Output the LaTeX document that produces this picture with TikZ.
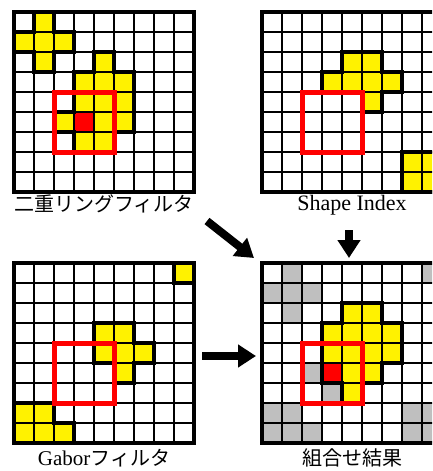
\documentclass[tikz,border=0pt]{standalone}
\usepackage{fontspec}
\setmainfont{Liberation Serif}
\newfontfamily\jpfont{Noto Sans CJK JP}
\usetikzlibrary{arrows.meta}
\begin{document}
\begin{tikzpicture}[
  x=1pt, y=-1pt,
  cellgrid/.style={x=20pt, y=-20pt},
  cellline/.style={line width=1.6pt},
  rim/.style={line width=4pt},
  blob/.style={line width=4pt, line join=miter},
  window/.style={draw=red, line width=5pt},
  shade/.style={fill=black!25},
  gridname/.style={font=\fontsize{20}{24}\selectfont, inner sep=0pt},
  bigarrow/.style={line width=8pt, -{Triangle[length=18pt, width=22pt]}},
]
  \useasboundingbox (0,0) rectangle (432,471);
  \clip (0,0) rectangle (432,471);

  \begin{scope}[shift={(14,12)}, cellgrid]
    \foreach \c/\r in {2/1,1/2,2/2,3/2,2/3,5/3,4/4,5/4,6/4,4/5,5/5,6/5,3/6,5/6,6/6,4/7,5/7}
      \fill[yellow] (\c-1,\r-1) rectangle (\c,\r);
    \fill[red] (3,5) rectangle (4,6);
    \foreach \i in {1,...,8} {
      \draw[cellline] (\i,0) -- (\i,9);
      \draw[cellline] (0,\i) -- (9,\i);
    }
    \draw[rim] (0,0) rectangle (9,9);
    \draw[blob] (1,0) -- (2,0) -- (2,1) -- (3,1) -- (3,2) -- (2,2) -- (2,3)
      -- (1,3) -- (1,2) -- (0,2) -- (0,1) -- (1,1) -- cycle;
    \draw[blob] (4,2) -- (5,2) -- (5,3) -- (6,3) -- (6,6) -- (5,6) -- (5,7)
      -- (3,7) -- (3,6) -- (2,6) -- (2,5) -- (3,5) -- (3,3) -- (4,3) -- cycle;
    \draw[window] (2,4) rectangle (5,7);
  \end{scope}

  \begin{scope}[shift={(262,12)}, cellgrid]
    \foreach \c/\r in {5/3,6/3,4/4,5/4,6/4,7/4,6/5,8/8,9/8,8/9,9/9}
      \fill[yellow] (\c-1,\r-1) rectangle (\c,\r);
    \foreach \i in {1,...,8} {
      \draw[cellline] (\i,0) -- (\i,9);
      \draw[cellline] (0,\i) -- (9,\i);
    }
    \draw[rim] (0,0) rectangle (9,9);
    \draw[blob] (4,2) -- (6,2) -- (6,3) -- (7,3) -- (7,4) -- (6,4) -- (6,5)
      -- (5,5) -- (5,4) -- (3,4) -- (3,3) -- (4,3) -- cycle;
    \draw[blob] (7,7) rectangle (9,9);
    \draw[window] (2,4) rectangle (5,7);
  \end{scope}

  \begin{scope}[shift={(14,263)}, cellgrid]
    \foreach \c/\r in {9/1,5/4,6/4,5/5,6/5,7/5,6/6,1/8,2/8,1/9,2/9,3/9}
      \fill[yellow] (\c-1,\r-1) rectangle (\c,\r);
    \foreach \i in {1,...,8} {
      \draw[cellline] (\i,0) -- (\i,9);
      \draw[cellline] (0,\i) -- (9,\i);
    }
    \draw[rim] (0,0) rectangle (9,9);
    \draw[blob] (8,0) rectangle (9,1);
    \draw[blob] (4,3) -- (6,3) -- (6,4) -- (7,4) -- (7,5) -- (6,5) -- (6,6)
      -- (5,6) -- (5,5) -- (4,5) -- cycle;
    \draw[blob] (0,7) -- (2,7) -- (2,8) -- (3,8) -- (3,9) -- (0,9) -- cycle;
    \draw[window] (2,4) rectangle (5,7);
  \end{scope}

  \begin{scope}[shift={(262,263)}, cellgrid]
    \foreach \c/\r in {2/1,9/1,1/2,2/2,3/2,2/3,3/6,4/7,1/8,2/8,8/8,9/8,1/9,2/9,3/9,8/9,9/9}
      \fill[shade] (\c-1,\r-1) rectangle (\c,\r);
    \foreach \c/\r in {5/3,6/3,4/4,5/4,6/4,7/4,4/5,5/5,6/5,7/5,5/6,6/6,5/7}
      \fill[yellow] (\c-1,\r-1) rectangle (\c,\r);
    \fill[red] (3,5) rectangle (4,6);
    \foreach \i in {1,...,8} {
      \draw[cellline] (\i,0) -- (\i,9);
      \draw[cellline] (0,\i) -- (9,\i);
    }
    \draw[rim] (0,0) rectangle (9,9);
    \draw[blob] (4,2) -- (6,2) -- (6,3) -- (7,3) -- (7,5) -- (6,5) -- (6,6)
      -- (5,6) -- (5,7) -- (4,7) -- (4,6) -- (3,6) -- (3,3) -- (4,3) -- cycle;
    \draw[window] (2,4) rectangle (5,7);
  \end{scope}

  \node[gridname] (ringname) at (104,204) {\jpfont 二重リングフィルタ};
  \node[gridname, font=\fontsize{22}{26}\selectfont] (shapename) at (352,205) {Shape Index};
  \node[gridname] (gaborname) at (104,458) {\fontsize{21}{24}\selectfont Gabor{\jpfont\fontsize{20}{24}\selectfont フィルタ}};
  \node[gridname] (resultname) at (352,458) {\jpfont 組合せ結果};

  \coordinate (ringtail) at (207,221);
  \coordinate (resultcorner) at (254,258);
  \coordinate (shapetail) at (349,230);
  \coordinate (resulttop) at (349,258);
  \coordinate (gabortail) at (202,356);
  \coordinate (resultside) at (256,356);

  \draw[bigarrow] (ringtail) -- (resultcorner);
  \draw[bigarrow] (shapetail) -- (resulttop);
  \draw[bigarrow] (gabortail) -- (resultside);
\end{tikzpicture}
\end{document}
